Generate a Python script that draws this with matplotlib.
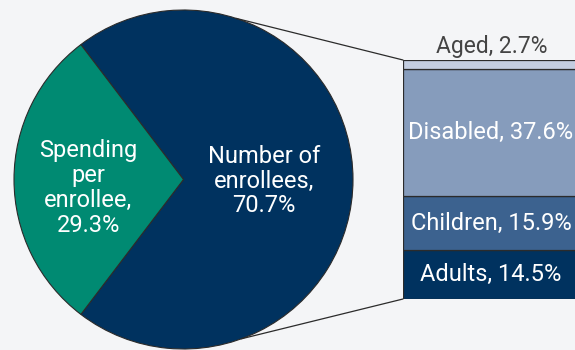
import matplotlib

matplotlib.use("Agg")

import matplotlib.pyplot as plt
import numpy as np
from matplotlib.patches import ConnectionPatch

plt.rcParams["font.family"] = ["Roboto", "DejaVu Sans"]

# pie: share of spending growth
pie_labels = ["Number of\nenrollees,\n70.7%", "Spending\nper\nenrollee,\n29.3%"]
pie_values = [70.7, 29.3]

# bar: breakdown of the enrollee slice, bottom to top
group_names = ["Adults", "Children", "Disabled", "Aged"]
group_values = [14.5, 15.9, 37.6, 2.7]

BG = "#f4f5f7"
EDGE = "#2b2b2b"
pie_colors = ["#00325f", "#008a72"]
bar_colors = ["#00325f", "#3c628f", "#869cbc", "#c3cde0"]

W, H = 575, 350
fig = plt.figure(figsize=(W / 100, H / 100), dpi=100, facecolor=BG)

# pie axes (pixel box -> figure fraction)
pie_ax = fig.add_axes([14 / W, 1 / H, 339 / W, 339 / H])
pie_ax.set_facecolor(BG)
green_span = pie_values[1] / sum(pie_values) * 360
wedges, _ = pie_ax.pie(
    pie_values,
    colors=pie_colors,
    startangle=180 + green_span / 2,
    counterclock=True,
    wedgeprops={"edgecolor": EDGE, "linewidth": 0.8},
)
pie_ax.set_xlim(-1, 1)
pie_ax.set_ylim(-1, 1)
pie_ax.set_aspect("equal")
pie_ax.axis("off")

pie_ax.text(0.475, -0.01, pie_labels[0], ha="center", va="center", color="white",
            fontsize=17, linespacing=1.1)
pie_ax.text(-0.563, -0.05, pie_labels[1], ha="center", va="center", color="white",
            fontsize=17, linespacing=1.1)

# stacked bar axes
bar_ax = fig.add_axes([403 / W, 51 / H, 190 / W, 239 / H])
bar_ax.set_facecolor(BG)
bottom = 0.0
for name, val, col in zip(group_names, group_values, bar_colors):
    bar_ax.bar(0, val, width=1, bottom=bottom, align="edge", color=col,
               edgecolor=EDGE, linewidth=0.9)
    label = f"{name}, {val}%"
    if name == "Aged":
        bar_ax.text(0.465, bottom + val + 2.0, label, ha="center", va="baseline",
                    color="#444444", fontsize=16.5)
    else:
        bar_ax.text(0.463, bottom + val / 2, label, ha="center", va="center",
                    color="white", fontsize=17)
    bottom += val
bar_ax.set_xlim(0, 1)
bar_ax.set_ylim(0, sum(group_values))
bar_ax.axis("off")

# connector lines from the pie to the bar
for ang, y in [(72, sum(group_values)), (-70, 0)]:
    t = np.deg2rad(ang)
    con = ConnectionPatch(xyA=(np.cos(t), np.sin(t)), coordsA=pie_ax.transData,
                          xyB=(0, y), coordsB=bar_ax.transData,
                          color=EDGE, linewidth=0.9)
    con.set_clip_on(False)
    fig.add_artist(con)

fig.savefig("out.png", dpi=100, facecolor=BG)
